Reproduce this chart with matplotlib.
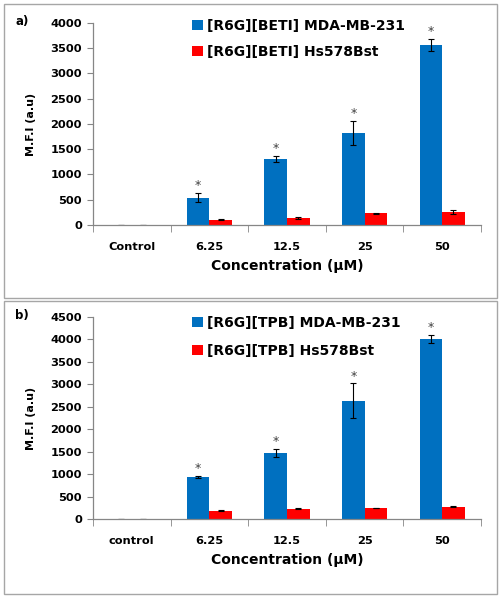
import matplotlib
matplotlib.use("Agg")
import matplotlib.pyplot as plt
import numpy as np
from matplotlib.patches import Rectangle

plt.rcParams['font.family'] = ['DejaVu Sans']

cats_a = ["Control", "6.25", "12.5", "25", "50"]
mda_a = [0, 540, 1310, 1820, 3560]
mda_a_err = [0, 90, 60, 240, 120]
hs_a = [0, 100, 140, 230, 260]
hs_a_err = [0, 10, 20, 15, 40]
star_a = [False, True, True, True, True]

cats_b = ["control", "6.25", "12.5", "25", "50"]
mda_b = [10, 940, 1480, 2630, 4000]
mda_b_err = [5, 30, 90, 390, 90]
hs_b = [10, 190, 230, 250, 280]
hs_b_err = [5, 8, 10, 8, 8]
star_b = [False, True, True, True, True]

BLUE = "#0070C0"
RED = "#FF0000"
SP = "#868686"

fig = plt.figure(figsize=(5, 6), dpi=100)

# panel frames
for (y0, y1) in [(4, 298), (301, 594)]:
    fig.patches.append(Rectangle((4/500, 1-y1/600), 493/500, (y1-y0)/600,
                                 transform=fig.transFigure, fill=False,
                                 edgecolor="#A6A6A6", linewidth=1.0))


def panel(rect, cats, mda, mda_err, hs, hs_err, stars, ymax, ystep,
          lab_mda, lab_hs, tag, tag_y, leg_y, leg_sp):
    ax = fig.add_axes(rect)
    x = np.arange(len(cats))
    w = 0.29
    ax.bar(x - w/2, mda, w, color=BLUE, label=lab_mda, yerr=mda_err,
           error_kw=dict(ecolor="black", elinewidth=0.8, capsize=2, capthick=0.8))
    ax.bar(x + w/2, hs, w, color=RED, label=lab_hs, yerr=hs_err,
           error_kw=dict(ecolor="black", elinewidth=0.8, capsize=2, capthick=0.8))
    for xi, v, e, s in zip(x, mda, mda_err, stars):
        if s:
            ax.annotate("*", (xi - w/2, v + e), xytext=(0, 0.5),
                        textcoords="offset points", ha="center", va="bottom",
                        fontsize=9, color="#404040")
    ax.set_xlim(-0.5, len(cats) - 0.5)
    ax.set_ylim(0, ymax)
    ax.set_yticks(np.arange(0, ymax + 1, ystep))
    ax.set_xticks(x)
    ax.set_xticklabels(cats)
    ax.set_xticks(np.arange(-0.5, len(cats)), minor=True)
    ax.tick_params(axis='x', which='major', length=0, pad=12)
    ax.tick_params(axis='x', which='minor', length=5, color=SP, direction='out')
    ax.tick_params(axis='y', length=4, color=SP, direction='out', pad=4)
    for lbl in ax.get_xticklabels() + ax.get_yticklabels():
        lbl.set_fontweight('bold')
        lbl.set_fontsize(8.2)
    for s in ['top', 'right']:
        ax.spines[s].set_visible(False)
    for s in ['left', 'bottom']:
        ax.spines[s].set_color(SP)
        ax.spines[s].set_linewidth(0.9)
    ax.set_xlabel("Concentration (µM)", fontsize=10, fontweight='bold', labelpad=5)
    ax.set_ylabel("M.F.I (a.u)", fontsize=8, fontweight='bold', labelpad=10)
    ax.legend(loc="upper left", bbox_to_anchor=(181/500, 1 - leg_y/600),
              bbox_transform=fig.transFigure,
              frameon=False, handlelength=0.75, handleheight=0.75,
              handletextpad=0.35, labelspacing=leg_sp, borderpad=0.3,
              prop=dict(weight='bold', size=10))
    fig.text(15/500, 1 - tag_y/600, tag, fontsize=8.5, fontweight='bold',
             va='center', ha='left')
    return ax


panel([0.186, 0.625, 0.776, 0.3367], cats_a, mda_a, mda_a_err, hs_a, hs_a_err,
      star_a, 4000, 500, "[R6G][BETI] MDA-MB-231", "[R6G][BETI] Hs578Bst",
      "a)", 22, 8, 0.85)

panel([0.186, 0.1345, 0.776, 0.3377], cats_b, mda_b, mda_b_err, hs_b, hs_b_err,
      star_b, 4500, 500, "[R6G][TPB] MDA-MB-231", "[R6G][TPB] Hs578Bst",
      "b)", 316, 305, 1.0)

fig.savefig("out.png", dpi=100)
